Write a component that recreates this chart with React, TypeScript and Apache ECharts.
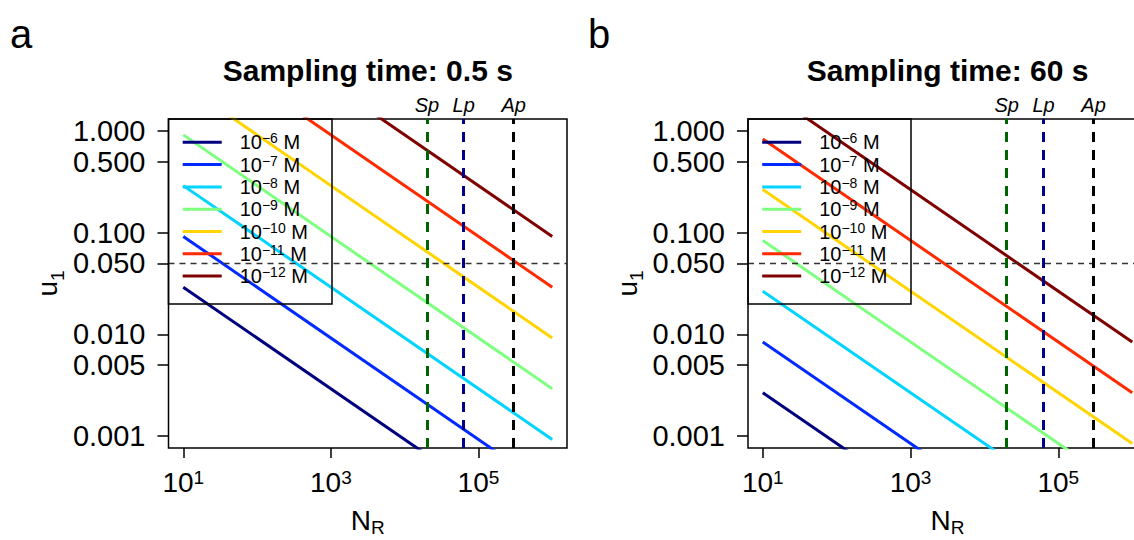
import React, { useEffect, useRef } from "react";
import * as echarts from "echarts";

// ---------- data ----------
const concExp = [-6, -7, -8, -9, -10, -11, -12];
const lineColors = ["#00007F", "#002AFF", "#00D4FF", "#7FFF7F", "#FFD400", "#FF2A00", "#7F0000"];
const nRange = [10, 1000000];
// panel a (0.5 s): u1 at N_R = 10 and N_R = 1e6
const u1StartA = [0.0291, 0.092, 0.291, 0.92, 2.91, 9.2, 29.1];
const u1EndA = [0.000092, 0.000291, 0.00092, 0.00291, 0.0092, 0.0291, 0.092];
// panel b (60 s)
const u1StartB = [0.00266, 0.0084, 0.0266, 0.084, 0.266, 0.84, 2.66];
const u1EndB = [0.0000084, 0.0000266, 0.000084, 0.000266, 0.00084, 0.00266, 0.0084];
const refLabels = ["Sp", "Lp", "Ap"];
const refN = [20000, 63000, 300000];
const refColors = ["#006400", "#00008B", "#000000"];
const threshold = 0.05;
const xTickValues = [10, 1000, 100000];
const yTickValues = [0.001, 0.005, 0.01, 0.05, 0.1, 0.5, 1];
const panelTitles = ["Sampling time: 0.5 s", "Sampling time: 60 s"];
const panelLetters = ["a", "b"];

const FONT = "'Liberation Sans', Arial, sans-serif";
const xMin = Math.pow(10, 0.8);
const xMax = Math.pow(10, 6.2);
const yMin = Math.pow(10, -3.12);
const yMax = Math.pow(10, 0.12);

const grids = [
  { left: 168.5, top: 119, width: 398.5, height: 329 },
  { left: 748, top: 119, width: 399, height: 329 },
];
const legendBoxes = [
  { x: 168.5, w: 163.5 },
  { x: 748, w: 163 },
];
const titleX = [367.8, 947.5];

const seriesName = (e: number) => `c${e}`;

function buildOption() {
  const startSets = [u1StartA, u1StartB];
  const endSets = [u1EndA, u1EndB];
  const series: any[] = [];
  const xAxes: any[] = [];
  const yAxes: any[] = [];
  const legends: any[] = [];
  const graphics: any[] = [];

  for (let p = 0; p < 2; p++) {
    xAxes.push({
      type: "log",
      gridIndex: p,
      min: xMin,
      max: xMax,
      logBase: 10,
      axisLine: { show: false },
      splitLine: { show: false },
      axisTick: { show: true, length: 10, lineStyle: { color: "#000", width: 1.5 }, customValues: xTickValues },
      axisLabel: {
        customValues: xTickValues,
        margin: 20,
        formatter: (v: number) => `{b|10}{s|${Math.round(Math.log10(v))}}`,
        rich: {
          b: { fontSize: 28, fontFamily: FONT, color: "#000" },
          s: { fontSize: 19, fontFamily: FONT, color: "#000", verticalAlign: "top" },
        },
      },
      name: "{b|N}{s|R}",
      nameLocation: "middle",
      nameGap: 58,
      nameTextStyle: {
        rich: {
          b: { fontSize: 28, lineHeight: 28, fontFamily: FONT, color: "#000", verticalAlign: "top" },
          s: { fontSize: 19, lineHeight: 19, fontFamily: FONT, color: "#000", verticalAlign: "top", padding: [12, 0, 0, 0] },
        },
      },
    });
    yAxes.push({
      type: "log",
      gridIndex: p,
      min: yMin,
      max: yMax,
      logBase: 10,
      axisLine: { show: false },
      splitLine: { show: false },
      axisTick: { show: true, length: 11, lineStyle: { color: "#000", width: 1.5 }, customValues: yTickValues },
      axisLabel: {
        customValues: yTickValues,
        margin: 23,
        formatter: (v: number) => v.toFixed(3),
        fontSize: 29,
        fontFamily: FONT,
        color: "#000",
      },
      name: "{b|u}{s|1}",
      nameLocation: "middle",
      nameGap: 107,
      nameTextStyle: {
        rich: {
          b: { fontSize: 28, lineHeight: 28, fontFamily: FONT, color: "#000", verticalAlign: "top" },
          s: { fontSize: 19, lineHeight: 19, fontFamily: FONT, color: "#000", verticalAlign: "top", padding: [14, 0, 0, 0] },
        },
      },
    });

    for (let i = 0; i < concExp.length; i++) {
      series.push({
        type: "line",
        name: seriesName(concExp[i]),
        xAxisIndex: p,
        yAxisIndex: p,
        symbol: "none",
        clip: true,
        color: lineColors[i],
        lineStyle: { color: lineColors[i], width: 3 },
        data: [
          [nRange[0], startSets[p][i]],
          [nRange[1], endSets[p][i]],
        ],
        z: 2,
      });
    }

    series.push({
      type: "line",
      name: "refs" + p,
      xAxisIndex: p,
      yAxisIndex: p,
      data: [],
      symbol: "none",
      z: 3,
      markLine: {
        silent: true,
        symbol: ["none", "none"],
        animation: false,
        data: [
          {
            yAxis: threshold,
            lineStyle: { color: "#333", width: 1.4, type: [6, 5] },
            label: { show: false },
          },
          ...refN.map((n, k) => ({
            xAxis: n,
            lineStyle: { color: refColors[k], width: 3, type: [10, 8] },
            label: {
              show: true,
              position: "end",
              distance: 4,
              formatter: refLabels[k],
              fontStyle: "italic",
              fontSize: 20,
              fontFamily: FONT,
              color: "#000",
            },
          })),
        ],
      },
    });

    legends.push({
      orient: "vertical",
      left: grids[p].left + 14.2,
      top: 131.3,
      padding: 0,
      itemWidth: 39,
      itemHeight: 3,
      itemGap: 1.3,
      icon: "rect",
      selectedMode: false,
      data: concExp.map(seriesName),
      formatter: (name: string) => {
        const e = name.slice(1).replace("-", "\u2212");
        return `{sp|}{b|10}{s|${e}}{b| M}`;
      },
      textStyle: {
        rich: {
          sp: { width: 13 },
          b: { fontSize: 20, lineHeight: 22, fontFamily: FONT, color: "#000" },
          s: { fontSize: 14, lineHeight: 14, fontFamily: FONT, color: "#000", verticalAlign: "top" },
        },
      },
    });

    graphics.push({
      type: "rect",
      shape: { x: legendBoxes[p].x, y: 119, width: legendBoxes[p].w, height: 185 },
      style: { fill: "none", stroke: "#000", lineWidth: 1.5 },
      silent: true,
      z: 10,
    });
    graphics.push({
      type: "text",
      x: titleX[p],
      y: 70,
      style: {
        text: panelTitles[p],
        font: `bold 30px ${FONT}`,
        fill: "#000",
        align: "center",
        verticalAlign: "middle",
      },
    });
    graphics.push({
      type: "text",
      x: p === 0 ? 10 : 588,
      y: 34,
      style: {
        text: panelLetters[p],
        font: `40px ${FONT}`,
        fill: "#000",
        align: "left",
        verticalAlign: "middle",
      },
    });
  }

  return {
    animation: false,
    backgroundColor: "#fff",
    textStyle: { fontFamily: FONT },
    grid: grids.map((g) => ({
      ...g,
      show: true,
      borderColor: "#000",
      borderWidth: 1.5,
      backgroundColor: "transparent",
      containLabel: false,
      outerBoundsMode: "none",
    })),
    xAxis: xAxes,
    yAxis: yAxes,
    legend: legends,
    series,
    graphic: graphics,
  };
}

export default function App() {
  const ref = useRef<HTMLDivElement>(null);
  useEffect(() => {
    if (!ref.current) return;
    const chart = echarts.init(ref.current, null, { renderer: "svg" });
    chart.setOption(buildOption() as any);
    return () => chart.dispose();
  }, []);
  return (
    <div
      ref={ref}
      style={{ position: "fixed", left: 0, top: 0, width: 1134, height: 540, background: "#fff" }}
    />
  );
}
